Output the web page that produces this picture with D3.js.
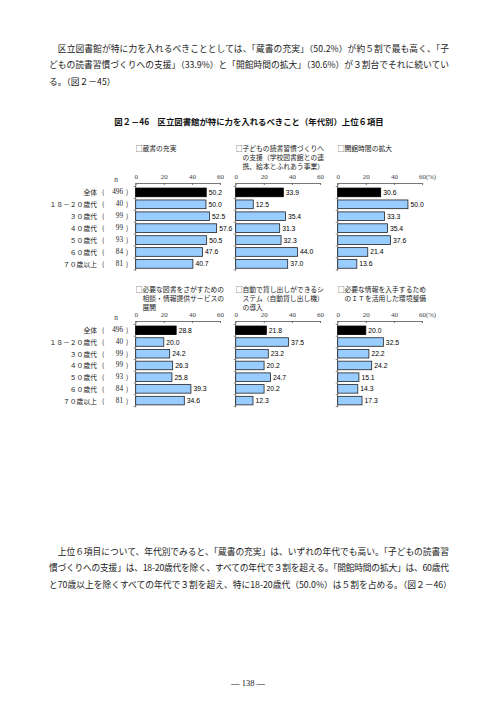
<!DOCTYPE html>
<html><head><meta charset="utf-8">
<script src="https://cdn.jsdelivr.net/npm/d3@7"></script>
<style>body{margin:0;background:#fff}svg{display:block}</style>
</head><body><svg id="c" width="496" height="702"></svg>
<script>
const categories = ["全体","１８－２０歳代","３０歳代","４０歳代","５０歳代","６０歳代","７０歳以上"];
const nValues = [496,40,99,99,93,84,81];
const titleCollection = ["□蔵書の充実"];
const titleChildren = ["□子どもの読書習慣づくりへ","の支援（学校図書館との連","携、絵本とふれあう事業）"];
const titleHours = ["□開館時間の拡大"];
const titleReference = ["□必要な図書をさがすための","相談・情報提供サービスの","展開"];
const titleSelfCheckout = ["□自動で貸し出しができるシ","ステム（自動貸し出し機）","の導入"];
const titleIT = ["□必要な情報を入手するため","のＩＴを活用した環境整備"];
const valCollection = [50.2,50.0,52.5,57.6,50.5,47.6,40.7];
const valChildren = [33.9,12.5,35.4,31.3,32.3,44.0,37.0];
const valHours = [30.6,50.0,33.3,35.4,37.6,21.4,13.6];
const valReference = [28.8,20.0,24.2,26.3,25.8,39.3,34.6];
const valSelfCheckout = [21.8,37.5,23.2,20.2,24.7,20.2,12.3];
const valIT = [20.0,32.5,22.2,24.2,15.1,14.3,17.3];
const tickValues = [0,20,40,60];
const paraTop = [
 "　区立図書館が特に力を入れるべきこととしては、「蔵書の充実」（50.2%）が約５割で最も高く、「子",
 "どもの読書習慣づくりへの支援」（33.9%）と「開館時間の拡大」（30.6%）が３割台でそれに続いてい",
 "る。（図２－45）"];
const chartTitle = "図２－46　区立図書館が特に力を入れるべきこと（年代別）上位６項目";
const paraBottom = [
 "　上位６項目について、年代別でみると、「蔵書の充実」は、いずれの年代でも高い。「子どもの読書習",
 "慣づくりへの支援」は、18-20歳代を除く、すべての年代で３割を超える。「開館時間の拡大」は、60歳代",
 "と70歳以上を除くすべての年代で３割を超え、特に18-20歳代（50.0%）は５割を占める。（図２－46）"];
const pageNumber = "— 138 —";

const svg = d3.select("#c");
const JP = "'Noto Sans CJK JP', sans-serif";
const SERIF = "'Liberation Serif', serif";
const txtCol = "#222";

function para(lines, y0, lh, justifyCount){
  lines.forEach((t,i)=>{
    const el = svg.append("text").attr("x",49).attr("y",y0+i*lh)
      .attr("font-family",JP).attr("font-size",8.75).attr("fill",txtCol)
      .attr("dominant-baseline","central").text(t);
    if(i<justifyCount) el.attr("textLength",400).attr("lengthAdjust","spacing");
  });
}
para(paraTop, 48, 16.5, 2);
para(paraBottom, 551, 16.5, 2);

svg.append("text").attr("x",249).attr("y",121).attr("text-anchor","middle")
  .attr("dominant-baseline","central").attr("font-family",JP).attr("font-weight","bold")
  .attr("font-size",8.4).attr("fill","#111").text(chartTitle);

svg.append("text").attr("x",248).attr("y",683).attr("text-anchor","middle")
  .attr("dominant-baseline","central").attr("font-family",SERIF)
  .attr("font-size",8.5).attr("fill",txtCol).text(pageNumber);

const panels = [
  {title:titleCollection, vals:valCollection, col:0, row:0},
  {title:titleChildren, vals:valChildren, col:1, row:0},
  {title:titleHours, vals:valHours, col:2, row:0},
  {title:titleReference, vals:valReference, col:0, row:1},
  {title:titleSelfCheckout, vals:valSelfCheckout, col:1, row:1},
  {title:titleIT, vals:valIT, col:2, row:1}
];
const colX = [135.7, 235.7, 337.7];
const rowCfg = [
  {titleY:148, axisY:183, bandTop:186.5, step:11.9},
  {titleY:289, axisY:321, bandTop:324.5, step:11.7}
];
const pw = 84.3;
const lab = 6.8;

rowCfg.forEach(rc=>{
  const y = d3.scaleBand().domain(categories).range([rc.bandTop, rc.bandTop+rc.step*categories.length]).paddingInner(0.27).paddingOuter(0.13);
  svg.append("text").attr("x",116).attr("y",rc.axisY-3).attr("text-anchor","middle")
    .attr("dominant-baseline","central").attr("font-family",SERIF).attr("font-size",7.2).attr("fill","#333").text("n");
  categories.forEach((c,i)=>{
    const cy = y(c)+y.bandwidth()/2;
    svg.append("text").attr("x",97).attr("y",cy).attr("text-anchor","end").attr("dominant-baseline","central")
      .attr("font-family",JP).attr("font-size",lab).attr("fill",txtCol).text(c);
    svg.append("text").attr("x",102).attr("y",cy).attr("dominant-baseline","central")
      .attr("font-family",JP).attr("font-size",lab).attr("fill",txtCol).text("(");
    svg.append("text").attr("x",123).attr("y",cy).attr("text-anchor","end").attr("dominant-baseline","central")
      .attr("font-family",SERIF).attr("font-size",7.2).attr("fill",txtCol).text(nValues[i]);
    svg.append("text").attr("x",126).attr("y",cy).attr("dominant-baseline","central")
      .attr("font-family",JP).attr("font-size",lab).attr("fill",txtCol).text(")");
  });
});

panels.forEach(p=>{
  const rc = rowCfg[p.row];
  const x0 = colX[p.col];
  const x = d3.scaleLinear().domain([0,60]).range([x0, x0+pw]);
  const y = d3.scaleBand().domain(categories).range([rc.bandTop, rc.bandTop+rc.step*categories.length]).paddingInner(0.27).paddingOuter(0.13);
  const g = svg.append("g");
  p.title.forEach((t,i)=>{
    g.append("text").attr("x", x0 + (i===0?0:lab)).attr("y", rc.titleY + i*8.8)
      .attr("dominant-baseline","central").attr("font-family",JP).attr("font-size",lab)
      .attr("fill",txtCol).text(t);
  });
  const ax = g.append("g").attr("transform",`translate(0,${rc.axisY})`)
    .call(d3.axisTop(x).tickValues(tickValues).tickSizeInner(-2).tickSizeOuter(0).tickPadding(4));
  ax.selectAll("path,line").attr("stroke","#555").attr("stroke-width",0.8);
  ax.selectAll("text").attr("font-family",SERIF).attr("font-size",7).attr("fill","#444");
  if(p.col===2){
    g.append("text").attr("x",x(60)+4).attr("y",rc.axisY-6.5).attr("dominant-baseline","central")
      .attr("font-family",SERIF).attr("font-size",6.6).attr("fill","#444").text("(%)");
  }
  const yEnd = rc.bandTop + rc.step*categories.length + 1;
  g.append("line").attr("x1",x0).attr("x2",x0).attr("y1",rc.axisY).attr("y2",yEnd)
    .attr("stroke","#555").attr("stroke-width",0.8);
  d3.range(categories.length+1).forEach(k=>{
    const yy = rc.bandTop + rc.step*k;
    g.append("line").attr("x1",x0-2).attr("x2",x0).attr("y1",yy).attr("y2",yy).attr("stroke","#555").attr("stroke-width",0.7);
  });
  g.selectAll("rect").data(p.vals).join("rect")
    .attr("x",x0).attr("y",(d,i)=>y(categories[i]))
    .attr("width",d=>x(d)-x0).attr("height",y.bandwidth())
    .attr("fill",(d,i)=>i===0?"#000":"#99CCFF")
    .attr("stroke",(d,i)=>i===0?"#000":"#222").attr("stroke-width",0.8);
  g.selectAll("text.v").data(p.vals).join("text").attr("class","v")
    .attr("x",d=>x(d)+2.5).attr("y",(d,i)=>y(categories[i])+y.bandwidth()/2)
    .attr("dominant-baseline","central").attr("font-family","'Liberation Sans', Arial, sans-serif")
    .attr("font-size",6.8).attr("fill","#000").text(d=>d.toFixed(1));
});
</script></body></html>
